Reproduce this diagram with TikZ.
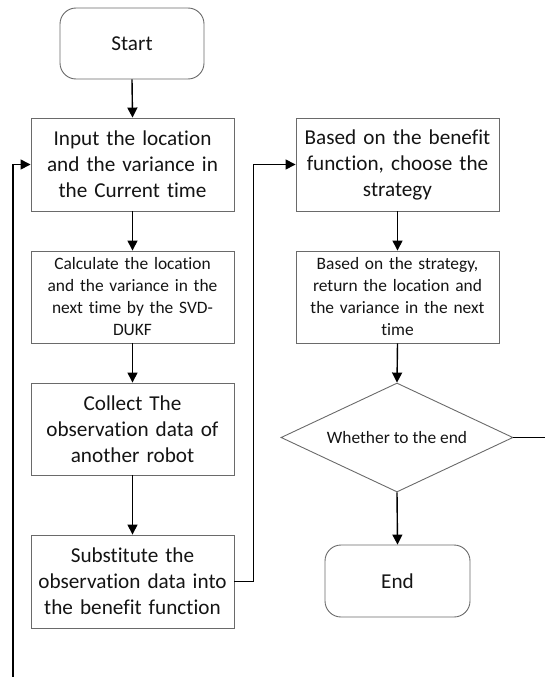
\documentclass[tikz,border=0pt]{standalone}
\usepackage{fontspec}
\setmainfont[Ligatures=CommonOff]{Carlito}
\usetikzlibrary{shapes.geometric,arrows.meta}
\definecolor{boxline}{HTML}{6A6A6A}
\definecolor{txt}{HTML}{141414}
\tikzset{
  base/.style={draw=boxline, line width=0.9pt, text=txt, align=center, inner sep=2pt},
  bigbox/.style={base, rectangle, minimum width=203pt, minimum height=93pt, text width=199pt,
    font=\fontsize{21.2}{26}\selectfont},
  smallbox/.style={base, rectangle, minimum width=203pt, minimum height=92pt, text width=199pt,
    font=\fontsize{17.4}{22}\selectfont},
  term/.style={base, rectangle, rounded corners=16pt, minimum width=144pt, minimum height=71pt,
    font=\fontsize{21.2}{26}\selectfont},
  decide/.style={base, diamond, aspect=2.13, minimum width=232pt, minimum height=109pt, inner sep=0pt,
    font=\fontsize{17.4}{22}\selectfont},
  flow/.style={line width=1.4pt, -{Triangle[length=10pt,width=10pt]}},
  plain/.style={line width=1.4pt}
}
\begin{document}
\begin{tikzpicture}[x=1pt,y=-1pt]
\useasboundingbox (0,0) rectangle (545,677);
\node[term] (start) at (132,43.5) {Start};
\node[bigbox] (input) at (132.5,164.5) {Input the location\\and the variance in\\the Current time};
\node[smallbox] (calc) at (132.5,297) {Calculate the location\\and the variance in the\\next time by the SVD-\\DUKF};
\node[bigbox, minimum height=92pt] (collect) at (132.5,429) {Collect The\\observation data of\\another robot};
\node[bigbox] (subst) at (132.5,581.5) {Substitute the\\observation data into\\the benefit function};
\node[bigbox] (benefit) at (397.5,164.5) {Based on the benefit\\function, choose the\\strategy};
\node[smallbox] (strat) at (397.5,297) {Based on the strategy,\\return the location and\\the variance in the next\\time};
\node[decide] (dec) at (397,437.5) {Whether to the end};
\node[term, minimum width=145pt, minimum height=72pt] (end) at (397.5,581) {End};
\coordinate (loopbot) at (13,677);
\coordinate (decout) at (545,437.5);
\draw[flow] (start.south) -- (input.north);
\draw[flow] (input.south) -- (calc.north);
\draw[flow] (calc.south) -- (collect.north);
\draw[flow] (collect.south) -- (subst.north);
\draw[flow] (subst.east) -- ++(19,0) |- (benefit.west);
\draw[flow] (benefit.south) -- (strat.north);
\draw[flow] (strat.south) -- (dec.north);
\draw[flow] (dec.south) -- (end.north);
\draw[flow] (loopbot) |- (input.west);
\draw[plain] (dec.east) -- (decout);
\end{tikzpicture}
\end{document}
